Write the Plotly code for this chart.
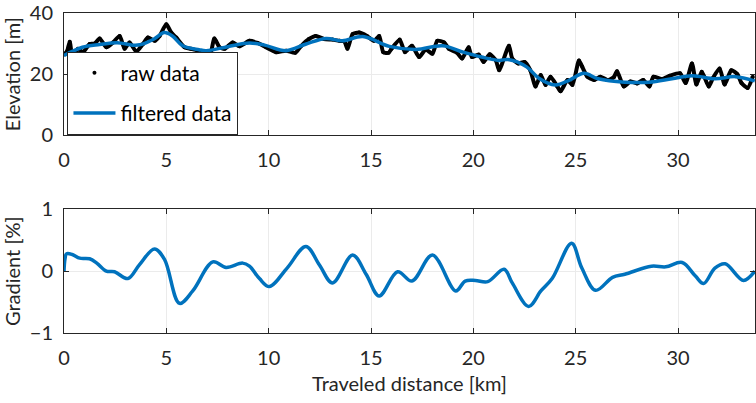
import plotly.graph_objects as go

# Raw elevation samples along the route
raw_km = [0.0, 0.15, 0.28, 0.44, 0.68, 0.93, 1.25, 1.5, 1.74, 2.07, 2.4, 2.72, 2.96, 3.2, 3.53,
          3.86, 4.1, 4.43, 4.67, 5.0, 5.24, 5.48, 5.89, 6.2, 6.53, 6.78, 7.1, 7.35, 7.6, 7.85,
          8.24, 8.57, 9.06, 9.46, 9.87, 10.36, 10.85, 11.3, 11.57, 11.97, 12.3, 12.7, 13.12,
          13.45, 13.7, 13.85, 14.1, 14.42, 14.8, 15.15, 15.4, 15.6, 15.86, 16.0, 16.4, 16.66,
          17.0, 17.35, 17.67, 18.0, 18.24, 18.57, 18.8, 19.2, 19.45, 19.77, 19.93, 20.26, 20.5,
          20.8, 21.1, 21.26, 21.74, 21.9, 22.2, 22.5, 22.78, 23.04, 23.29, 23.53, 23.77, 24.1,
          24.26, 24.6, 24.84, 25.16, 25.32, 25.57, 25.9, 26.2, 26.55, 26.86, 27.02, 27.35,
          27.67, 28.0, 28.3, 28.6, 28.8, 29.2, 29.6, 30.1, 30.37, 30.68, 30.9, 31.16, 31.5,
          31.7, 32.03, 32.28, 32.6, 32.9, 33.1, 33.4, 33.65]
raw_elev = [26.4, 27.5, 30.6, 24.0, 28.3, 27.2, 29.9, 30.0, 31.7, 28.8, 30.4, 32.5, 28.3, 30.4, 27.4,
            29.9, 32.0, 30.9, 32.5, 36.3, 33.6, 32.0, 28.8, 28.3, 27.7, 26.4, 25.6, 31.7, 28.8, 28.3,
            30.4, 29.1, 30.9, 30.2, 28.8, 27.2, 27.7, 27.0, 29.1, 31.5, 32.5, 31.5, 31.3,
            30.9, 30.7, 28.3, 33.1, 33.6, 32.5, 30.9, 32.5, 27.2, 27.0, 28.3, 31.3, 27.2,
            29.3, 25.6, 28.1, 26.7, 30.9, 30.4, 28.3, 27.0, 25.1, 28.8, 25.6, 26.4, 24.0,
            26.5, 24.5, 21.3, 29.3, 25.1, 23.5, 24.0, 21.3, 16.0, 19.7, 16.5, 19.2, 16.0,
            14.4, 18.1, 16.5, 24.5, 22.4, 19.2, 18.1, 19.2, 18.1, 19.0, 21.0, 16.0,
            17.6, 17.0, 18.1, 16.0, 19.2, 18.4, 19.5, 20.3, 17.1, 23.5, 16.6, 20.8, 16.0,
            18.7, 21.9, 16.6, 21.3, 20.0, 17.1, 15.5, 19.2]

# Low-pass filtered elevation
filt_km = [0.0, 0.9, 1.74, 2.6, 3.35, 3.7, 4.4, 4.9, 5.3, 5.8, 6.6, 6.95, 8.0, 9.06, 9.8, 10.85,
           11.8, 12.8, 13.6, 14.6, 15.9, 17.2, 18.5, 19.5, 20.4, 21.25, 21.7, 22.6, 23.2, 24.0,
           24.7, 25.4, 26.1, 27.4, 28.6, 29.7, 30.7, 31.8, 32.8, 33.75]
filt_elev = [26.1, 28.8, 29.7, 30.3, 29.5, 29.6, 31.5, 33.6, 32.5, 29.3, 28.0, 27.7, 29.0, 30.2, 29.5,
             27.7, 29.8, 31.7, 30.9, 32.3, 29.1, 28.1, 29.3, 27.2, 25.6, 24.5, 24.8, 22.4, 18.7, 16.5,
             18.1, 20.3, 18.5, 17.4, 17.4, 18.5, 19.5, 18.5, 19.2, 17.8]

# Road gradient derived from the filtered profile
grad_km = [0.0, 0.05, 0.12, 0.4, 0.77, 1.25, 1.6, 2.07, 2.47, 3.12, 3.69, 4.42, 4.91, 5.64, 6.29,
           7.27, 7.92, 8.73, 9.06, 9.55, 10.03, 10.9, 11.82, 12.48, 13.12, 14.1, 14.76, 15.4, 16.3,
           17.0, 18.0, 19.14, 19.6, 20.1, 20.7, 21.5, 21.9, 22.7, 23.3, 23.85, 24.8, 25.3, 25.97,
           26.8, 27.4, 28.7, 29.4, 30.2, 30.85, 31.25, 31.8, 32.3, 33.2, 33.75]
grad_pct = [0.0, 0.2, 0.28, 0.27, 0.21, 0.20, 0.13, 0.0, -0.01, -0.12, 0.106, 0.36, 0.19, -0.52, -0.32,
            0.15, 0.06, 0.13, 0.08, -0.12, -0.25, 0.05, 0.40, 0.1, -0.19, 0.26, -0.05, -0.40, -0.01,
            -0.16, 0.26, -0.32, -0.16, -0.15, -0.17, 0.03, -0.19, -0.57, -0.32, -0.12, 0.45, 0.05, -0.31,
            -0.1, -0.05, 0.08, 0.07, 0.14, -0.08, -0.2, 0.05, 0.12, -0.15, 0.0]

x_ticks = [0, 5, 10, 15, 20, 25, 30]
elev_ticks = [0, 20, 40]
grad_ticks = [-1, 0, 1]

BLUE = "#0072BD"
AX = "#262626"
GRID = "#ebebeb"
FONT = "Lato"
FS = 20

fig = go.Figure()

fig.add_trace(go.Scatter(x=raw_km, y=raw_elev, mode="lines", line=dict(color="black", width=4, shape="spline", smoothing=0.6),
                         showlegend=False, xaxis="x", yaxis="y", hoverinfo="skip"))
fig.add_trace(go.Scatter(x=raw_km, y=raw_elev, mode="markers", marker=dict(color="black", size=4),
                         name="raw data", legendgroup="a", xaxis="x", yaxis="y"))
fig.add_trace(go.Scatter(x=filt_km, y=filt_elev, mode="lines", line=dict(color=BLUE, width=3.5, shape="spline", smoothing=1.0),
                         name="filtered data", legendgroup="b", xaxis="x", yaxis="y"))
fig.add_trace(go.Scatter(x=grad_km, y=grad_pct, mode="lines", line=dict(color=BLUE, width=3.5, shape="spline", smoothing=1.0),
                         showlegend=False, xaxis="x2", yaxis="y2"))

axis_common = dict(showline=True, linecolor=AX, linewidth=1, mirror="ticks", ticks="inside", ticklen=5,
                   tickcolor=AX, showgrid=True, gridcolor=GRID, gridwidth=1, zeroline=False,
                   tickfont=dict(family=FONT, size=FS, color=AX))
title_font = dict(family=FONT, size=FS, color=AX)

fig.update_layout(
    width=756, height=403,
    margin=dict(l=64, r=0, t=7, b=70),
    paper_bgcolor="white", plot_bgcolor="white",
    font=dict(family=FONT, size=FS, color=AX),
    xaxis=dict(domain=[0, 1], range=[0, 33.76], tickvals=x_ticks, anchor="y", ticklabelstandoff=7, **axis_common),
    yaxis=dict(domain=[0.6175, 1], range=[0, 40.001], tickvals=elev_ticks, anchor="x", ticklabelstandoff=6,
               title=dict(text="Elevation [m]", standoff=7, font=title_font), **axis_common),
    xaxis2=dict(domain=[0, 1], range=[0, 33.76], tickvals=x_ticks, anchor="y2", ticklabelstandoff=7,
                title=dict(text="Traveled distance [km]", standoff=8, font=title_font), **axis_common),
    yaxis2=dict(domain=[0, 0.3865], range=[-1, 1], tickvals=grad_ticks, anchor="x2", ticklabelstandoff=6,
                title=dict(text="Gradient [%]", standoff=7, font=title_font), **axis_common),
    legend=dict(x=0.005, y=0.62, xanchor="left", yanchor="bottom", bgcolor="white", bordercolor=AX, borderwidth=1,
                font=dict(family=FONT, size=21, color="black"), tracegroupgap=10, traceorder="grouped",
                itemwidth=42),
)

fig.write_html("out.html")
